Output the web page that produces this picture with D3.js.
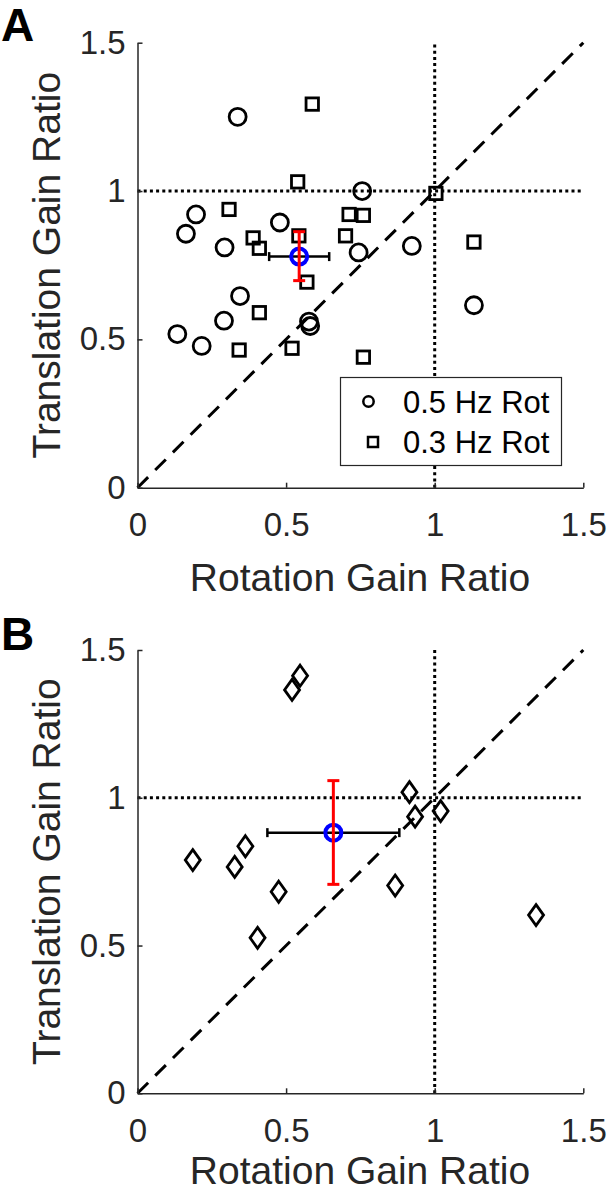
<!DOCTYPE html>
<html><head><meta charset="utf-8">
<script src="https://cdn.jsdelivr.net/npm/d3@7"></script>
<style>
html,body{margin:0;padding:0;background:#fff;}
svg{display:block;}
text{font-family:"Liberation Sans",Arial,Helvetica,sans-serif;}
</style></head>
<body>
<svg id="chart" width="607" height="1193"></svg>
<script>
// ---- data ----
const circA_x = [0.337,0.756,0.197,0.163,0.293,0.479,0.744,0.345,0.291,0.134,0.216,0.577,0.581,0.923,1.132];
const circA_y = [1.250,1.000,0.921,0.856,0.810,0.894,0.793,0.646,0.563,0.518,0.478,0.560,0.545,0.815,0.615];
const sqA_x = [0.588,0.539,0.308,0.712,0.760,0.389,0.410,0.543,0.700,0.570,0.410,0.342,0.520,0.760,1.004,1.132];
const sqA_y = [1.293,1.031,0.938,0.921,0.918,0.842,0.807,0.849,0.849,0.693,0.590,0.464,0.470,0.440,0.992,0.828];
const diaB_x = [0.547,0.520,0.186,0.363,0.327,0.475,0.404,0.915,0.934,1.020,0.867,1.341];
const diaB_y = [1.413,1.365,0.789,0.836,0.766,0.682,0.526,1.019,0.936,0.955,0.703,0.603];
const meanA = [0.544, 0.779];
const meanA_xerr = [0.443, 0.645];
const meanA_yerr = [0.698, 0.863];
const meanB = [0.659, 0.882];
const meanB_xerr = [0.437, 0.881];
const meanB_yerr = [0.707, 1.058];
const ticks = [0, 0.5, 1, 1.5];
const tickLabels = ["0", "0.5", "1", "1.5"];
const legendLabels = ["0.5 Hz Rot", "0.3 Hz Rot"];
const xTitle = "Rotation Gain Ratio";
const yTitle = "Translation Gain Ratio";

const svg = d3.select("#chart");
const AX = "#262626";

function panel(cfg) {
  const x = d3.scaleLinear().domain([0, 1.5]).range([137.5, 583.3]);
  const y = d3.scaleLinear().domain([0, 1.5]).range([cfg.y0, cfg.y1]);
  const g = svg.append("g");

  // reference lines
  g.append("line").attr("x1", x(0)).attr("y1", y(0)).attr("x2", x(1.5)).attr("y2", y(1.5))
    .attr("stroke", "#000").attr("stroke-width", 3).attr("stroke-dasharray", "15,10");
  g.append("line").attr("x1", x(0)).attr("y1", y(1)).attr("x2", x(1.5)).attr("y2", y(1))
    .attr("stroke", "#000").attr("stroke-width", 3).attr("stroke-dasharray", "3,3.2");
  g.append("line").attr("x1", x(1)).attr("y1", y(0)).attr("x2", x(1)).attr("y2", y(1.5))
    .attr("stroke", "#000").attr("stroke-width", 3).attr("stroke-dasharray", "3,3.2");

  // axes
  const xa = g.append("g").attr("transform", `translate(0,${y(0)})`)
    .call(d3.axisBottom(x).tickValues(ticks).tickFormat((d, i) => tickLabels[i])
      .tickSizeInner(-5).tickSizeOuter(0).tickPadding(25));
  const ya = g.append("g").attr("transform", `translate(${x(0)},0)`)
    .call(d3.axisLeft(y).tickValues(ticks).tickFormat((d, i) => tickLabels[i])
      .tickSizeInner(-5).tickSizeOuter(0).tickPadding(12));
  [xa, ya].forEach(a => {
    a.select(".domain").attr("stroke", AX).attr("stroke-width", 1.5);
    a.selectAll(".tick line").attr("stroke", AX).attr("stroke-width", 1.5);
    a.selectAll(".tick text").attr("fill", AX).style("font-size", "33px")
      .style("font-family", '"Liberation Sans",Arial,sans-serif');
  });

  // data markers
  if (cfg.draw) cfg.draw(g, x, y);

  // mean with error bars
  const m = cfg.mean, ex = cfg.xerr, ey = cfg.yerr;
  g.append("line").attr("x1", x(ex[0])).attr("x2", x(ex[1])).attr("y1", y(m[1])).attr("y2", y(m[1]))
    .attr("stroke", "#000").attr("stroke-width", 2.5);
  [ex[0], ex[1]].forEach(v => g.append("line").attr("x1", x(v)).attr("x2", x(v))
    .attr("y1", y(m[1]) - 4.5).attr("y2", y(m[1]) + 4.5).attr("stroke", "#000").attr("stroke-width", 2.5));
  g.append("circle").attr("cx", x(m[0])).attr("cy", y(m[1])).attr("r", 8)
    .attr("fill", "none").attr("stroke", "#0000ff").attr("stroke-width", 4);
  g.append("line").attr("x1", x(m[0])).attr("x2", x(m[0])).attr("y1", y(ey[0])).attr("y2", y(ey[1]))
    .attr("stroke", "#ff0000").attr("stroke-width", 3);
  [ey[0], ey[1]].forEach(v => g.append("line").attr("x1", x(m[0]) - 6).attr("x2", x(m[0]) + 6)
    .attr("y1", y(v)).attr("y2", y(v)).attr("stroke", "#ff0000").attr("stroke-width", 3));

  // titles
  g.append("text").attr("x", 360).attr("y", cfg.xTitleY).attr("text-anchor", "middle")
    .attr("fill", AX).style("font-size", "39px").text(xTitle);
  g.append("text").attr("transform", `translate(60,${(cfg.y0 + cfg.y1) / 2}) rotate(-90)`)
    .attr("text-anchor", "middle").attr("fill", AX).style("font-size", "39px").text(yTitle);
  g.append("text").attr("x", 1).attr("y", cfg.labelY).attr("fill", "#000")
    .style("font-size", "46px").style("font-weight", "bold").text(cfg.label);
  return { g, x, y };
}

const circleMarker = (sel, r) => sel.attr("r", r).attr("fill", "none").attr("stroke", "#000").attr("stroke-width", 2.8);

panel({
  y0: 487.7, y1: 42.7, xTitleY: 591, labelY: 41, label: "A",
  mean: meanA, xerr: meanA_xerr, yerr: meanA_yerr,
  draw: (g, x, y) => {
    g.selectAll(".c").data(circA_x).enter().append("circle")
      .attr("cx", d => x(d)).attr("cy", (d, i) => y(circA_y[i])).call(circleMarker, 8.5);
    g.selectAll(".s").data(sqA_x).enter().append("rect")
      .attr("x", d => x(d) - 6.2).attr("y", (d, i) => y(sqA_y[i]) - 6.2)
      .attr("width", 12.4).attr("height", 12.4)
      .attr("fill", "none").attr("stroke", "#000").attr("stroke-width", 2.8);
    // legend
    const lg = g.append("g");
    lg.append("rect").attr("x", 340.5).attr("y", 377.5).attr("width", 221).attr("height", 88)
      .attr("fill", "#fff").attr("stroke", AX).attr("stroke-width", 1.2);
    lg.append("circle").attr("cx", 368.5).attr("cy", 401.5).attr("r", 5.2)
      .attr("fill", "none").attr("stroke", "#000").attr("stroke-width", 2.5);
    lg.append("rect").attr("x", 368).attr("y", 437).attr("width", 10).attr("height", 10)
      .attr("fill", "none").attr("stroke", "#000").attr("stroke-width", 2.5);
    lg.selectAll("text.l").data(legendLabels).enter().append("text")
      .attr("x", 403).attr("y", (d, i) => 412.5 + i * 40.5).attr("fill", "#000")
      .style("font-size", "31px").text(d => d);
  }
});

panel({
  y0: 1093.3, y1: 650, xTitleY: 1184, labelY: 650, label: "B",
  mean: meanB, xerr: meanB_xerr, yerr: meanB_yerr,
  draw: (g, x, y) => {
    const hw = 7.5, hh = 10.5;
    g.selectAll(".d").data(diaB_x).enter().append("path")
      .attr("d", (d, i) => {
        const cx = x(d), cy = y(diaB_y[i]);
        return `M${cx},${cy - hh}L${cx + hw},${cy}L${cx},${cy + hh}L${cx - hw},${cy}Z`;
      })
      .attr("fill", "none").attr("stroke", "#000").attr("stroke-width", 2.8).attr("stroke-linejoin", "miter");
  }
});
</script>
</body></html>
